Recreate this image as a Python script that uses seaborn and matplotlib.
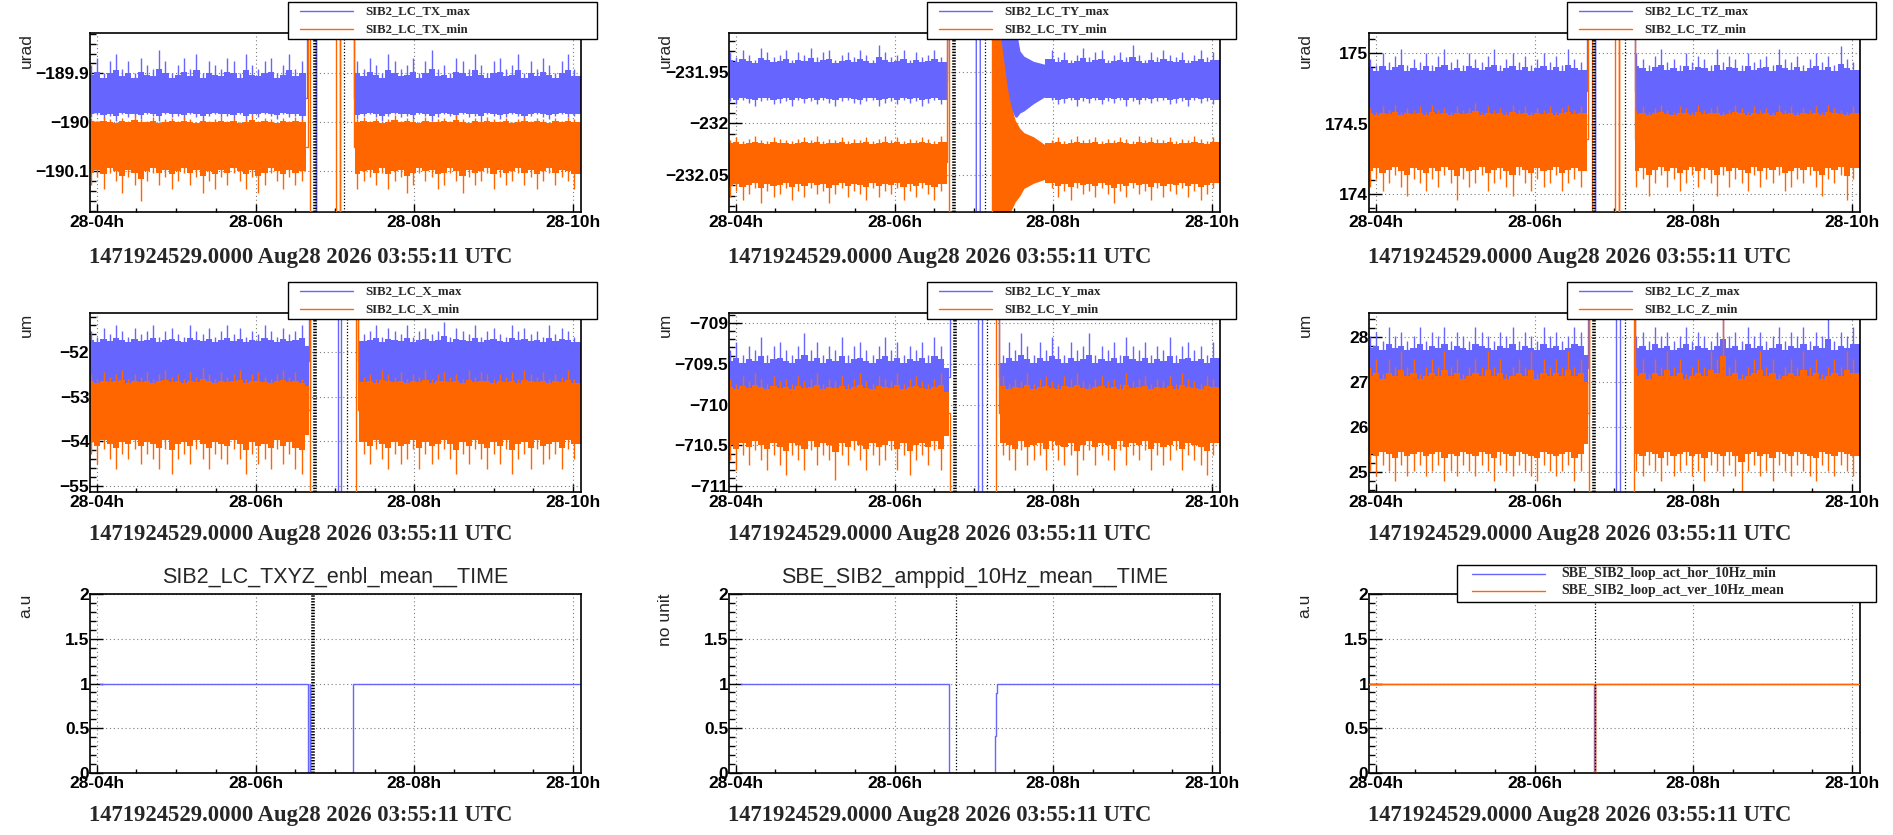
import numpy as np
import seaborn as sns
import matplotlib.pyplot as plt
from matplotlib.lines import Line2D
from matplotlib.patches import Rectangle
from matplotlib.ticker import MultipleLocator, FuncFormatter

# ---------------------------------------------------------------- data
LO, HI = -1e6, 1e6          # off-scale samples, clipped onto the frame like ROOT does
BLUE, ORANGE = '#6666ff', '#ff6600'

x_range = (3.915, 10.10)    # hours of Aug 28
hour_ticks = [4, 6, 8, 10]
hour_labels = ['28-04h', '28-06h', '28-08h', '28-10h']
date_text = '1471924529.0000 Aug28 2026 03:55:11 UTC'
spike_t = np.linspace(3.93, 10.09, 80)   # sampling grid of the spikes

# --- SIB2_LC_TX (urad)
tx_ylim = (-190.183, -189.818)
tx_max_core, tx_max_reach = (-189.980, -189.915), (-190.010, -189.845)
tx_min_core, tx_min_reach = (-190.088, -190.002), (-190.16, -189.978)
tx_max_up = [4,6,2,5,7,3,5,2,6,4, 3,8,5,2,4,6,3,7,2,5, 4,3,6,5,2,7,4,3,5,6, 2,4,7,3,5,0,0,0,0,0,
             0,0,0,5,3,6,4,2,7,5, 3,4,6,2,5,8,3,4,2,6, 5,3,7,4,2,5,6,3,4,7, 2,5,3,6,4,2,5,7,3,4]
tx_max_down = [3,1,4,2,5,1,3,2,4,1, 2,5,1,3,2,4,1,3,6,2, 1,3,2,4,1,5,2,3,1,2, 4,1,3,2,5,0,0,0,0,0,
               0,0,0,4,2,1,3,5,2,1, 3,2,4,1,2,5,3,1,2,4, 1,3,2,6,1,2,4,3,1,2, 5,2,1,3,4,2,1,3,2,5]
tx_min_down = [5,3,6,2,4,7,3,5,9,4, 2,5,3,6,4,2,5,3,7,4, 6,3,5,2,4,6,3,7,5,2, 4,6,3,5,4,0,0,0,0,0,
               0,0,0,6,4,3,5,2,6,4, 3,7,5,2,4,3,6,5,2,4, 7,3,5,4,2,6,3,5,4,2, 5,3,6,4,2,5,3,4,6,3]
tx_min_up = [4,2,5,3,1,4,2,6,3,2, 5,1,3,4,2,5,3,1,4,2, 3,5,2,4,1,3,6,2,4,3, 1,4,2,5,3,0,0,0,0,0,
             0,0,0,3,5,2,4,1,3,6, 2,4,3,1,5,2,3,4,2,6, 3,1,4,2,5,3,2,4,1,3, 5,2,4,3,1,4,2,5,3,2]
tx_gap_max_t = [6.64, 6.645, 6.645, 6.76, 6.76, 6.765, 6.765, 7.245, 7.245, 7.25]
tx_gap_max_v = [-189.95, -189.95, HI, HI, LO, LO, HI, HI, -189.95, -189.95]
tx_gap_min_t = [6.64, 6.66, 6.66, 6.68, 6.68, 7.01, 7.01, 7.06, 7.06, 7.065, 7.065, 7.24, 7.24, 7.25]
tx_gap_min_v = [-190.05, -190.05, HI, HI, LO, LO, HI, HI, LO, LO, HI, HI, -190.05, -190.05]
tx_marks = (6.745, 7.12)

# --- SIB2_LC_TY (urad)
ty_ylim = (-232.0858, -231.9126)
ty_max_core, ty_max_reach = (-231.974, -231.943), (-231.988, -231.922)
ty_min_core, ty_min_reach = (-232.054, -232.021), (-232.080, -232.010)
ty_max_up = [5,3,6,4,2,7,5,3,4,6, 2,5,4,7,3,5,6,2,4,5, 3,6,4,2,8,5,3,4,6,2, 5,3,4,6,3,0,0,0,0,0,
             0,0,0,0,0,0,0,0,0,0, 0,4,6,3,5,2,4,7,3,5, 6,2,4,5,3,8,4,2,5,3, 6,4,3,5,2,4,6,3,5,4]
ty_max_down = [3,5,2,4,6,3,2,5,4,3, 6,2,4,3,5,2,4,6,3,2, 4,5,3,2,6,4,3,5,2,4, 3,6,4,2,5,0,0,0,0,0,
               0,0,0,0,0,0,0,0,0,0, 0,3,2,5,4,2,6,3,4,2, 5,3,4,2,6,3,5,2,4,3, 2,5,4,3,6,2,4,3,5,2]
ty_min_down = [6,4,7,5,3,8,4,6,5,3, 7,4,6,3,5,4,8,5,3,6, 4,5,7,3,6,4,5,3,7,4, 6,3,5,7,4,0,0,0,0,0,
               0,0,0,0,0,0,0,0,0,0, 0,5,3,6,4,7,3,5,4,6, 3,5,8,4,6,3,5,4,7,3, 6,4,5,3,6,4,7,5,3,5]
ty_min_up = [4,6,3,5,7,4,3,6,5,4, 3,5,6,4,7,3,5,4,6,3, 5,4,6,3,5,7,4,6,3,5, 4,6,5,3,7,0,0,0,0,0,
             0,0,0,0,0,0,0,0,0,0, 0,5,4,6,3,5,7,4,5,6, 3,5,4,6,5,3,7,4,6,5, 4,6,3,5,4,7,5,3,6,4]
ty_gap_max_t = [6.667, 6.67, 7.03, 7.03, 7.08, 7.08, 7.31]
ty_gap_max_v = [-231.96, HI, HI, LO, LO, HI, HI]
ty_gap_min_t = [6.667, 6.667, 6.69, 6.69, 7.23, 7.23]
ty_gap_min_v = [-232.037, HI, HI, LO, LO, HI]
# recovery transient after the gap
ty_tr_t = [7.23, 7.31, 7.33, 7.375, 7.42, 7.46, 7.52, 7.58, 7.63, 7.75, 7.9]
ty_tr_min_hi = [HI, HI, HI, -231.939, -231.965, -231.981, -231.997, -232.005, -232.009, -232.013, -232.021]
ty_tr_min_lo = [LO, LO, LO, LO, LO, LO, -232.076, -232.070, -232.063, -232.058, -232.054]
ty_trb_t = [7.31, 7.42, 7.52, 7.54, 7.58, 7.63, 7.75, 7.9]
ty_trb_max_hi = [HI, HI, HI, HI, -231.930, -231.935, -231.940, -231.943]
ty_trb_max_lo = [-231.95, -231.98, -231.994, -231.994, -231.990, -231.988, -231.981, -231.974]
ty_marks = (6.745, 7.14)

# --- SIB2_LC_TZ (urad)
tz_ylim = (173.874, 175.144)
tz_max_core, tz_max_reach = (174.50, 174.85), (174.50, 175.05)
tz_min_core, tz_min_reach = (174.23, 174.55), (173.96, 174.66)
tz_max_up = [5,3,7,4,6,8,3,5,4,7, 3,6,8,4,5,3,7,5,4,6, 8,3,5,7,4,6,3,5,7,4, 6,3,8,5,4,0,0,0,0,0,
             0,0,0,7,5,3,6,8,4,5, 3,7,4,6,5,3,8,4,6,5, 3,7,4,5,6,3,8,5,4,6, 3,5,7,4,6,3,9,5,4,6]
tz_min_down = [6,4,7,5,3,6,8,4,5,7, 4,6,3,5,9,4,6,5,3,7, 5,4,6,8,3,5,7,4,6,5, 3,7,5,4,6,0,0,0,0,0,
               0,0,0,6,4,8,5,3,6,4, 7,5,3,6,4,5,8,3,6,4, 5,7,3,6,4,5,3,7,6,4, 5,3,6,8,4,5,3,9,4,6]
tz_min_up = [5,3,6,4,7,3,5,4,6,3, 7,4,5,3,6,4,5,8,3,6, 4,5,3,7,4,6,3,5,4,6, 3,5,7,4,6,0,0,0,0,0,
             0,0,0,4,6,3,5,7,4,3, 6,5,3,7,4,5,6,3,4,7, 5,3,6,4,5,3,7,4,6,3, 5,4,6,3,7,5,4,3,6,5]
tz_gap_max_t = [6.66, 6.665, 6.665, 6.76, 6.76, 6.765, 6.765, 7.26, 7.26, 7.27]
tz_gap_max_v = [174.73, 174.73, HI, HI, LO, LO, HI, HI, 174.73, 174.73]
tz_gap_min_t = [6.66, 6.67, 6.67, 6.72, 6.72, 7.01, 7.01, 7.06, 7.06, 7.065, 7.065, 7.26, 7.26, 7.27]
tz_gap_min_v = [174.39, 174.39, HI, HI, LO, LO, HI, HI, LO, LO, HI, HI, 174.39, 174.39]
tz_marks = (6.755, 7.14)

# --- SIB2_LC_X (um)
x_ylim = (-55.14, -51.12)
x_max_core, x_max_reach = (-53.0, -51.85), (-53.0, -51.25)
x_min_core, x_min_reach = (-53.85, -52.75), (-54.85, -52.30)
x_max_up = [5,3,6,4,7,5,3,6,4,5, 7,3,5,6,4,3,7,5,4,6, 3,5,7,4,6,3,5,4,7,5, 3,6,4,5,7,0,0,0,0,0,
            0,0,0,6,4,5,7,3,6,5, 4,7,3,5,6,4,5,8,3,6, 5,4,7,3,5,6,4,3,7,5, 6,4,5,3,7,4,6,5,3,6]
x_min_down = [4,6,3,5,7,4,5,3,6,4, 5,7,3,8,5,4,6,3,5,7, 4,5,6,3,5,8,4,6,5,7, 3,6,4,7,8,0,0,0,0,0,
              0,0,0,5,4,6,3,5,7,4, 6,5,3,7,4,6,5,3,5,8, 4,6,3,5,7,4,6,3,8,5, 4,7,3,6,5,4,7,3,5,4]
x_min_up = [5,3,6,4,5,7,3,5,4,6, 3,5,7,4,5,3,6,4,8,5, 3,6,4,5,7,3,5,6,4,3, 5,7,4,6,3,0,0,0,0,0,
            0,0,0,6,4,5,3,7,5,4, 6,3,5,4,7,3,5,6,4,5, 3,7,4,6,5,3,5,4,6,3, 7,5,4,6,3,5,4,7,3,5]
x_gap_max_t = [6.67, 6.675, 6.675, 7.04, 7.04, 7.08, 7.08, 7.29, 7.29, 7.3]
x_gap_max_v = [-52.2, -52.2, HI, HI, LO, LO, HI, HI, -52.2, -52.2]
x_gap_min_t = [6.67, 6.68, 6.68, 6.685, 6.685, 7.27, 7.27, 7.285, 7.285, 7.3]
x_gap_min_v = [-53.3, -53.3, HI, HI, LO, LO, HI, HI, -53.3, -53.3]
x_marks = (6.755, 7.15)

# --- SIB2_LC_Y (um)
y_ylim = (-711.07, -708.88)
y_max_core, y_max_reach = (-710.0, -709.55), (-710.0, -709.07)
y_min_core, y_min_reach = (-710.38, -709.85), (-710.92, -709.55)
y_max_up = [4,6,3,5,4,7,3,5,6,4, 3,5,8,4,6,3,5,4,7,3, 5,6,4,3,5,7,4,6,3,5, 4,6,3,7,5,0,0,0,0,0,
            0,0,0,5,3,6,4,8,5,3, 6,4,7,5,3,6,4,5,8,3, 5,4,6,3,7,5,4,6,3,5, 4,7,3,5,6,4,5,3,6,4]
y_min_down = [5,7,4,6,3,5,7,4,6,8, 4,5,7,3,6,4,5,9,4,6, 3,5,7,4,6,5,3,7,4,8, 5,4,6,3,7,0,0,0,0,0,
              0,0,0,6,4,5,7,3,6,5, 4,7,3,5,6,4,8,5,3,6, 4,5,7,3,6,4,5,3,7,4, 6,5,3,7,4,5,6,8,4,5]
y_min_up = [5,3,6,4,7,5,3,6,4,5, 3,6,4,5,7,3,5,4,6,3, 5,7,4,3,6,5,4,7,3,5, 6,4,3,5,7,0,0,0,0,0,
            0,0,0,4,6,3,5,4,7,3, 5,6,4,3,6,5,7,4,3,5, 6,4,5,3,7,4,5,6,3,5, 4,6,3,7,5,4,3,6,5,4]
y_gap_max_t = [6.69, 6.695, 6.695, 7.05, 7.05, 7.1, 7.1, 7.32, 7.32, 7.33]
y_gap_max_v = [-709.66, -709.66, HI, HI, LO, LO, HI, HI, -709.66, -709.66]
y_gap_min_t = [6.69, 6.695, 6.695, 7.28, 7.28, 7.32, 7.32, 7.33]
y_gap_min_v = [-710.1, -710.1, LO, LO, HI, HI, -710.1, -710.1]
y_marks = (6.765, 7.17)

# --- SIB2_LC_Z (um)
z_ylim = (24.55, 28.53)
z_max_core, z_max_reach = (26.8, 27.6), (26.8, 28.53)
z_min_core, z_min_reach = (25.62, 27.0), (24.55, 28.53)
z_max_up = [4,5,3,6,4,5,3,4,6,3, 5,4,6,3,5,4,3,6,5,4, 3,5,4,6,3,5,4,3,6,4, 5,3,4,6,5,0,0,0,0,0,
            0,0,0,4,5,3,6,4,5,3, 4,6,3,5,4,3,5,9,4,5, 3,6,4,5,3,4,6,3,5,4, 6,3,5,4,9,3,5,4,6,3]
z_min_down = [5,6,4,5,7,4,6,5,4,6, 5,4,7,5,6,4,5,6,4,5, 7,4,5,6,4,5,6,7,4,5, 6,5,4,7,5,0,0,0,0,0,
              0,0,0,5,6,4,5,7,4,6, 5,4,6,5,7,4,5,6,4,6, 9,5,4,6,5,7,4,5,6,4, 5,6,7,4,5,6,4,5,6,5]
z_min_up = [2,3,1,3,2,4,2,3,1,2, 3,2,4,2,3,1,2,3,2,4, 2,3,1,2,3,2,4,1,3,2, 3,2,4,2,3,0,0,0,0,0,
            0,0,0,2,3,1,3,2,4,2, 3,1,2,3,2,4,3,9,2,3, 1,2,3,4,2,3,1,2,3,2, 4,2,3,1,2,3,2,4,3,2]
z_gap_max_t = [6.67, 6.675, 6.675, 7.03, 7.03, 7.08, 7.08, 7.26, 7.26, 7.27]
z_gap_max_v = [27.3, 27.3, HI, HI, LO, LO, HI, HI, 27.3, 27.3]
z_gap_min_t = [6.67, 6.68, 6.68, 6.685, 6.685, 7.25, 7.25, 7.26, 7.26, 7.27]
z_gap_min_v = [26.3, 26.3, HI, HI, LO, LO, HI, HI, 26.3, 26.3]
z_marks = (6.75, 7.14)

# --- bottom row, step signals
enbl_t = [4.04, 6.66, 6.68, 6.685, 7.23, 10.10]
enbl_v = [1, 0, 1, 0, 1, 1]
amppid_t = [4.07, 6.69, 7.265, 7.28, 7.295, 10.10]
amppid_v = [1, 0, 0.41, 0.89, 1, 1]
loop_hor_t = [3.915, 6.755, 6.76, 10.10]
loop_hor_v = [1, 0, 1, 1]
loop_ver_t = [3.915, 6.762, 6.768, 10.10]
loop_ver_v = [1, 0, 1, 1]

# ---------------------------------------------------------------- figure
sns.set_theme(style="white")
plt.rcParams['font.family'] = ['Liberation Sans', 'DejaVu Sans']
plt.rcParams['font.weight'] = 'bold'
plt.rcParams['axes.unicode_minus'] = True
SERIF = ['Liberation Serif', 'DejaVu Serif']

W, H = 1893, 835
fig = plt.figure(figsize=(W / 100, H / 100), dpi=100)
col_left = [90, 729, 1369]
row_top = [33, 313, 594]
ax_w, ax_h = 491, 179
date_base = [263, 540, 821]


def make_ax(r, c):
    return fig.add_axes([col_left[c] / W, 1 - (row_top[r] + ax_h) / H, ax_w / W, ax_h / H])


def style_ax(ax, ylim, major, minor, dotted_top=False):
    ax.set_xlim(x_range)
    ax.set_ylim(ylim)
    ax.set_xticks(hour_ticks, labels=hour_labels)
    ax.xaxis.set_minor_locator(MultipleLocator(0.5))
    ax.yaxis.set_major_locator(MultipleLocator(major))
    ax.yaxis.set_minor_locator(MultipleLocator(minor))
    ax.yaxis.set_major_formatter(FuncFormatter(lambda v, p: f'{v:g}'.replace('-', '\u2212')))
    ax.tick_params(axis='both', which='both', direction='in', width=1, labelsize=12.5,
                   colors='black', bottom=True, left=True, top=False, right=False)
    ax.tick_params(axis='x', which='major', length=6, pad=2.5)
    ax.tick_params(axis='x', which='minor', length=3)
    ax.tick_params(axis='y', which='major', length=9, pad=0.5)
    ax.tick_params(axis='y', which='minor', length=4.5)
    ax.grid(True, which='major', color='#7f7f7f', ls=(0, (1, 2.5)), lw=0.8)
    ax.set_axisbelow(True)
    ax.set_xlabel('')
    ax.set_ylabel('')
    for s in ax.spines.values():
        s.set_color('black')
        s.set_linewidth(1.2)
    if dotted_top:
        ax.spines['top'].set_linestyle((0, (2, 1)))


def clip(vals, ylim):
    return np.clip(np.asarray(vals, float), *ylim)


def draw_band(ax, ylim, core, reach, up, down, segs, color, z):
    # solid core, ragged fringe, then the single spikes
    lo_c, hi_c = core
    keep = np.zeros(len(spike_t), bool)
    for a, b in segs:
        ax.fill_between([a, b], lo_c, hi_c, color=color, lw=0, zorder=z)
        keep |= (spike_t > a + 0.01) & (spike_t < b - 0.01)
    for levels, edge, far in ((up, hi_c, reach[1]), (down, lo_c, reach[0])):
        if levels is None:
            continue
        lv = np.asarray(levels, float)
        tip = np.clip(edge + lv / 9 * (far - edge), *ylim)
        fringe = edge + 0.38 * (tip - edge)
        for a, b in segs:
            m = (spike_t > a + 0.01) & (spike_t < b - 0.01)
            tt = np.r_[a, spike_t[m], b]
            ff = np.r_[fringe[m][:1], fringe[m], fringe[m][-1:]]
            ax.fill_between(tt, edge, ff, step='mid', color=color, lw=0, zorder=z)
        m = keep & (lv > 0)
        ax.vlines(spike_t[m], edge, tip[m], color=color, lw=1.0, zorder=z)


def path(ax, t, v, ylim, color, z, steps=False):
    sns.lineplot(x=np.asarray(t, float), y=clip(v, ylim), ax=ax, color=color, lw=1.0,
                 estimator=None, sort=False, errorbar=None, zorder=z,
                 drawstyle='steps-post' if steps else 'default')


def marks(ax, hatch_x=None, dot_x=None):
    if hatch_x is not None:
        ax.axvline(hatch_x, color='black', lw=2.6, ls=(0, (0.4, 0.4)), zorder=3.5)
    if dot_x is not None:
        ax.axvline(dot_x, color='black', lw=0.9, ls=(0, (1, 1.5)), zorder=3.5)


def add_legend(r, c, labels, left_off=198, right_off=16, top_off=31, bottom_off=6,
               line_in=12, line_len=53, text_in=77, step=18, first=9, size=9.2):
    # ROOT style TLegend box, drawn on the figure above the frames
    x0, x1 = col_left[c] + left_off, col_left[c] + ax_w + right_off
    y0, y1 = row_top[r] - top_off, row_top[r] + bottom_off
    fig.add_artist(Rectangle((x0 / W, 1 - y1 / H), (x1 - x0) / W, (y1 - y0) / H,
                             transform=fig.transFigure, facecolor='white', edgecolor='black',
                             lw=1.0, zorder=5))
    for k, (lab, col) in enumerate(zip(labels, [BLUE, ORANGE])):
        yy = 1 - (y0 + first + step * k) / H
        fig.add_artist(Line2D([(x0 + line_in) / W, (x0 + line_in + line_len) / W], [yy, yy],
                              transform=fig.transFigure, color=col, lw=1.0, zorder=6))
        fig.text((x0 + text_in) / W, yy, lab, ha='left', va='center', family=SERIF,
                 weight='bold', size=size, zorder=6)


def annotate(ax, r, c, ylab):
    xc = (col_left[c] + ax_w / 2 - 35) / W
    fig.text(xc, 1 - date_base[r] / H, date_text, ha='center', va='baseline',
             family=SERIF, weight='bold', size=16.3)
    ax.text(-64 / ax_w, 1.0, ylab, transform=ax.transAxes, rotation=90, ha='center', va='top',
            size=12.5, weight='normal')


def lc_panel(r, c, ylim, major, minor, max_core, max_reach, max_up, max_down,
             min_core, min_reach, min_up, min_down, gmax, gmin, mk, name, unit,
             after_start=None):
    ax = make_ax(r, c)
    start = after_start if after_start is not None else gmax[0][-1]
    segs_max = [(x_range[0], gmax[0][0]), (start, x_range[1])]
    start = after_start if after_start is not None else gmin[0][-1]
    segs_min = [(x_range[0], gmin[0][0]), (start, x_range[1])]
    draw_band(ax, ylim, max_core, max_reach, max_up, max_down, segs_max, BLUE, 2.0)
    draw_band(ax, ylim, min_core, min_reach, min_up, min_down, segs_min, ORANGE, 2.2)
    path(ax, gmax[0], gmax[1], ylim, BLUE, 2.0)
    path(ax, gmin[0], gmin[1], ylim, ORANGE, 3.0)
    marks(ax, *mk)
    style_ax(ax, ylim, major, minor)
    add_legend(r, c, [name + '_max', name + '_min'])
    annotate(ax, r, c, unit)
    return ax


lc_panel(0, 0, tx_ylim, 0.1, 0.02, tx_max_core, tx_max_reach, tx_max_up, tx_max_down,
         tx_min_core, tx_min_reach, tx_min_up, tx_min_down,
         (tx_gap_max_t, tx_gap_max_v), (tx_gap_min_t, tx_gap_min_v), tx_marks, 'SIB2_LC_TX', 'urad')

ax_ty = lc_panel(0, 1, ty_ylim, 0.05, 0.01, ty_max_core, ty_max_reach, ty_max_up, ty_max_down,
                 ty_min_core, ty_min_reach, ty_min_up, ty_min_down,
                 (ty_gap_max_t, ty_gap_max_v), (ty_gap_min_t, ty_gap_min_v), ty_marks, 'SIB2_LC_TY',
                 'urad', after_start=7.9)
ax_ty.fill_between(ty_trb_t, clip(ty_trb_max_lo, ty_ylim), clip(ty_trb_max_hi, ty_ylim),
                   color=BLUE, lw=0, zorder=2.0)
ax_ty.fill_between(ty_tr_t, clip(ty_tr_min_lo, ty_ylim), clip(ty_tr_min_hi, ty_ylim),
                   color=ORANGE, lw=0, zorder=2.2)

lc_panel(0, 2, tz_ylim, 0.5, 0.1, tz_max_core, tz_max_reach, tz_max_up, None,
         tz_min_core, tz_min_reach, tz_min_up, tz_min_down,
         (tz_gap_max_t, tz_gap_max_v), (tz_gap_min_t, tz_gap_min_v), tz_marks, 'SIB2_LC_TZ', 'urad')

lc_panel(1, 0, x_ylim, 1, 0.2, x_max_core, x_max_reach, x_max_up, None,
         x_min_core, x_min_reach, x_min_up, x_min_down,
         (x_gap_max_t, x_gap_max_v), (x_gap_min_t, x_gap_min_v), x_marks, 'SIB2_LC_X', 'um')

lc_panel(1, 1, y_ylim, 0.5, 0.1, y_max_core, y_max_reach, y_max_up, None,
         y_min_core, y_min_reach, y_min_up, y_min_down,
         (y_gap_max_t, y_gap_max_v), (y_gap_min_t, y_gap_min_v), y_marks, 'SIB2_LC_Y', 'um')

lc_panel(1, 2, z_ylim, 1, 0.2, z_max_core, z_max_reach, z_max_up, None,
         z_min_core, z_min_reach, z_min_up, z_min_down,
         (z_gap_max_t, z_gap_max_v), (z_gap_min_t, z_gap_min_v), z_marks, 'SIB2_LC_Z', 'um')

# ---------------------------------------------------------------- bottom row
ylim3 = (0, 2)
titles3 = ['SIB2_LC_TXYZ_enbl_mean__TIME', 'SBE_SIB2_amppid_10Hz_mean__TIME']

ax = make_ax(2, 0)
path(ax, enbl_t, enbl_v, ylim3, BLUE, 2.0, steps=True)
marks(ax, hatch_x=6.73)
style_ax(ax, ylim3, 0.5, 0.1, dotted_top=True)
annotate(ax, 2, 0, 'a.u')

ax = make_ax(2, 1)
path(ax, amppid_t, amppid_v, ylim3, BLUE, 2.0, steps=True)
marks(ax, dot_x=6.775)
style_ax(ax, ylim3, 0.5, 0.1, dotted_top=True)
annotate(ax, 2, 1, 'no unit')

for c in range(2):
    fig.text((col_left[c] + ax_w / 2) / W, 1 - 583 / H, titles3[c], ha='center', va='baseline',
             size=15.5, weight='normal')

ax = make_ax(2, 2)
path(ax, loop_hor_t, loop_hor_v, ylim3, BLUE, 2.0, steps=True)
path(ax, loop_ver_t, loop_ver_v, ylim3, ORANGE, 3.0, steps=True)
marks(ax, dot_x=6.76)
style_ax(ax, ylim3, 0.5, 0.1, dotted_top=True)
add_legend(2, 2, ['SBE_SIB2_loop_act_hor_10Hz_min', 'SBE_SIB2_loop_act_ver_10Hz_mean'],
           left_off=88, top_off=29, bottom_off=8, line_in=15, line_len=73, text_in=104,
           step=17, first=8.5, size=10)
annotate(ax, 2, 2, 'a.u')

plt.savefig('out.png', dpi=100, facecolor='white')
